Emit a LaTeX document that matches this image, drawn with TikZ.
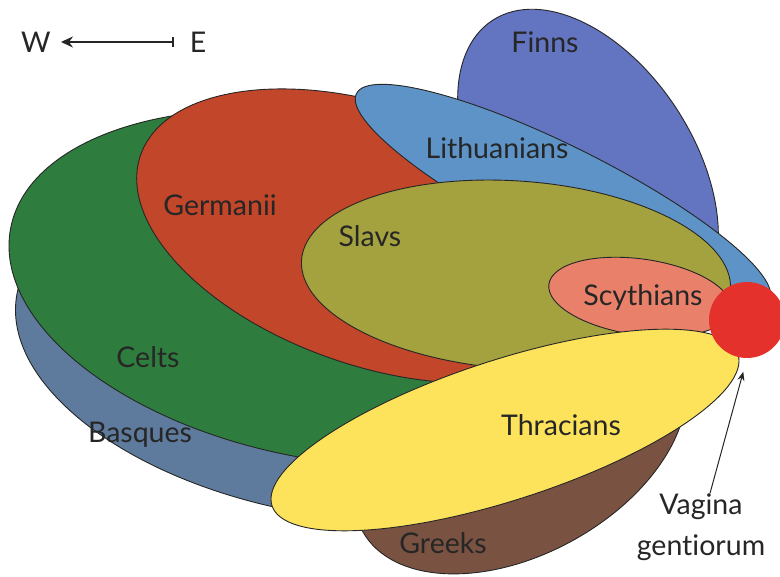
\documentclass[tikz,border=0pt]{standalone}
\usepackage{fontspec}
\setmainfont{Lato}[Ligatures=NoCommon]
\usetikzlibrary{arrows.meta}
\definecolor{ink}{HTML}{262626}
\definecolor{basque}{HTML}{5E7B9E}
\definecolor{greek}{HTML}{7A5241}
\definecolor{celt}{HTML}{2F7D3E}
\definecolor{finn}{HTML}{6374C0}
\definecolor{lith}{HTML}{5D93C6}
\definecolor{german}{HTML}{C1462A}
\definecolor{slav}{HTML}{A3A23F}
\definecolor{scyth}{HTML}{E9806A}
\definecolor{thrac}{HTML}{FCE35B}
\definecolor{womb}{HTML}{E4312B}
\tikzset{
  folk/.style={draw=ink, line width=0.9pt},
  lbl/.style={font=\fontsize{28.5}{41}\selectfont, text=ink, inner sep=0pt},
  pointer/.style={-{Stealth[length=9pt,width=7pt]}, line width=1pt, color=ink},
}
\begin{document}
\begin{tikzpicture}[x=1pt,y=-1pt]
\useasboundingbox (0,0) rectangle (780,577);
% peoples, back to front
\filldraw[folk,fill=basque] (330,350) ellipse [x radius=318, y radius=165, rotate=-10];
\filldraw[folk,fill=greek] (520,444) ellipse [x radius=180, y radius=110, rotate=29];
\filldraw[folk,fill=celt] (325,288) ellipse [x radius=320, y radius=171, rotate=-10.75];
\filldraw[folk,fill=finn] (588,167) ellipse [x radius=106, y radius=175, rotate=33];
\filldraw[folk,fill=german] (375,236) ellipse [x radius=248, y radius=130, rotate=-19];
\filldraw[folk,fill=lith] (563,197) ellipse [x radius=231, y radius=50, rotate=-26.6];
\filldraw[folk,fill=slav] (516,275) ellipse [x radius=215, y radius=94, rotate=-4];
\filldraw[folk,fill=scyth] (640,297) ellipse [x radius=92, y radius=38, rotate=-8];
\filldraw[folk,fill=thrac] (505,430) ellipse [x radius=245, y radius=70, rotate=18];
\node[circle,fill=womb,minimum size=76pt,inner sep=0pt] (womb) at (747,320) {};

% names
\node[lbl] (finns) at (545,42) {Finns};
\node[lbl] (lithuanians) at (497,148) {Lithuanians};
\node[lbl] (germanii) at (220,205) {Germanii};
\node[lbl] (slavs) at (370,236) {Slavs};
\node[lbl] (scythians) at (643,297) {Scythians};
\node[lbl] (celts) at (148,357) {Celts};
\node[lbl] (basques) at (140,435) {Basques};
\node[lbl] (thracians) at (561,425) {Thracians};
\node[lbl] (greeks) at (443,543) {Greeks};

\node[lbl,align=center] (vaglbl) at (701,527) {Vagina\\gentiorum};
\draw[pointer,shorten >=14pt] ([xshift=9pt]vaglbl.north) -- (womb.south);

% compass
\node[lbl] (west) at (36,42) {W};
\node[lbl] (east) at (198,42) {E};
\draw[{Bar[width=10pt]}-{Stealth[length=12pt,width=11pt]},line width=1.6pt,ink,
  shorten <=16pt,shorten >=10pt] (east.west) -- (west.east);
\end{tikzpicture}
\end{document}
